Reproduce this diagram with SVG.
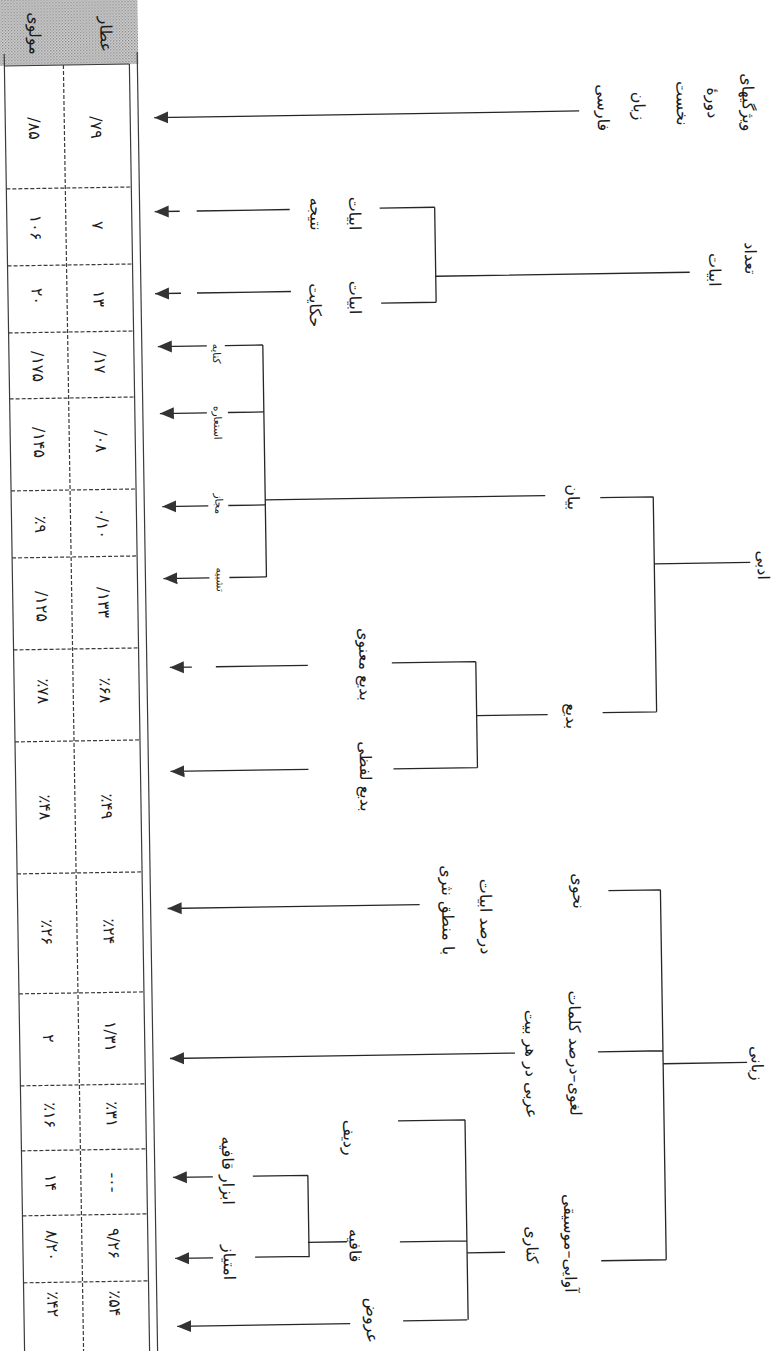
<svg xmlns="http://www.w3.org/2000/svg" width="779" height="1351" viewBox="0 0 779 1351">
<style>
.t{font-family:"DejaVu Sans","Noto Sans",sans-serif;fill:#1c1c1c}
.lbl{font-size:16px}
.sm{font-size:10.5px}
.num{font-size:16px}
.ln{stroke:#262626;stroke-width:1.3;fill:none}
.ar{stroke:#262626;stroke-width:1.3;fill:none;marker-end:url(#ah)}
.tb{stroke:#3a3a3a;stroke-width:1.2;fill:none}
.dsh{stroke-dasharray:4 2}
</style>
<defs>
<marker id="ah" markerUnits="userSpaceOnUse" markerWidth="15" markerHeight="13" refX="14" refY="6.5" orient="auto">
<path d="M0,0.5 L14,6.5 L0,12.5 Z" fill="#333"/>
</marker>
<pattern id="stip" width="3" height="3" patternUnits="userSpaceOnUse">
<rect width="3" height="3" fill="#d6d6d6"/>
<rect width="1.3" height="1.3" fill="#7e7e7e"/>
<rect x="1.5" y="1.5" width="1.3" height="1.3" fill="#8e8e8e"/>
</pattern>
</defs>
<rect width="779" height="1351" fill="#ffffff"/>
<g transform="rotate(-0.9 390 675)">
<g id="table">
<rect x="-8" y="-12" width="156" height="72" fill="url(#stip)"/>
<path class="tb" d="M14,48 V1370 M139,60 V1370 M147,48 V1370"/>
<path class="tb dsh" d="M73,60 V1370"/>
<path class="tb" d="M14,60 H139"/>
<path class="tb dsh" d="M14,183 H139 M14,260 H139 M14,327 H139 M14,393 H139 M14,485 H139 M14,552 H139 M14,644 H139 M14,736 H139 M14,868 H139 M14,988 H139 M14,1080 H139 M14,1145 H139 M14,1210 H139 M14,1277 H139"/>
<text class="t lbl" transform="translate(116 30) rotate(90)" text-anchor="middle" dominant-baseline="central" direction="rtl">عطار</text>
<text class="t lbl" transform="translate(45 28) rotate(90)" text-anchor="middle" dominant-baseline="central" direction="rtl">مولوی</text>
<g class="t num" text-anchor="middle" dominant-baseline="central">
<text transform="translate(105 123) rotate(90)">/۷۹</text>
<text transform="translate(43 123) rotate(90)">/۸۵</text>
<text transform="translate(105 221) rotate(90)">۷</text>
<text transform="translate(43 222) rotate(90)">۱۰۶</text>
<text transform="translate(105 294) rotate(90)">۱۳</text>
<text transform="translate(43 291) rotate(90)">۲۰</text>
<text transform="translate(105 358) rotate(90)">/۱۷</text>
<text transform="translate(43 361) rotate(90)">/۱۷۵</text>
<text transform="translate(105 437) rotate(90)">/۰۸</text>
<text transform="translate(43 437) rotate(90)">/۱۴۵</text>
<text transform="translate(105 519) rotate(90)">۰/۱۰</text>
<text transform="translate(43 519) rotate(90)">٪۹</text>
<text transform="translate(105 598) rotate(90)">/۱۳۳</text>
<text transform="translate(43 601) rotate(90)">/۱۲۵</text>
<text transform="translate(105 686) rotate(90)">٪۶۸</text>
<text transform="translate(43 686) rotate(90)">٪۷۸</text>
<text transform="translate(105 802) rotate(90)">٪۴۹</text>
<text transform="translate(43 802) rotate(90)">٪۴۸</text>
<text transform="translate(105 927) rotate(90)">٪۲۴</text>
<text transform="translate(43 927) rotate(90)">٪۲۶</text>
<text transform="translate(105 1032) rotate(90)">۱/۳۱</text>
<text transform="translate(43 1033) rotate(90)">۲</text>
<text transform="translate(105 1110) rotate(90)">٪۳۱</text>
<text transform="translate(43 1110) rotate(90)">٪۱۶</text>
<text transform="translate(105 1178) rotate(90)">-۰-</text>
<text transform="translate(43 1177) rotate(90)">۱۴</text>
<text transform="translate(105 1239) rotate(90)">۹/۲۶</text>
<text transform="translate(43 1240) rotate(90)">۸/۲۰</text>
<text transform="translate(105 1299) rotate(90)">٪۵۴</text>
<text transform="translate(43 1299) rotate(90)">٪۴۲</text>
</g>
</g>
<g id="connectors">
<path class="ar" d="M588,114 H163"/>
<path class="ar" d="M187,208 H162"/>
<path class="ln" d="M204,208 H297 M387,208 H442"/>
<path class="ar" d="M187,290 H161"/>
<path class="ln" d="M203,290 H297 M387,303 H442 M442,208 V303 M442,277 H696"/>
<path class="ar" d="M212,343 H163"/>
<path class="ln" d="M230,343 H268 M268,343 V575"/>
<path class="ar" d="M211,410 H164"/>
<path class="ln" d="M232,410 H268"/>
<path class="ar" d="M211,503 H165"/>
<path class="ln" d="M231,503 H268 M268,498 H548"/>
<path class="ar" d="M211,575 H165"/>
<path class="ln" d="M231,575 H268"/>
<path class="ln" d="M603,501 H656 M656,501 V716 M602,716 H656 M656,568 H752"/>
<path class="ln" d="M476,717 H547 M476,663 V769 M392,663 H476 M308,664 H216 M392,769 H476"/>
<path class="ar" d="M192,664 H170"/>
<path class="ar" d="M307,768 H169"/>
<path class="ar" d="M416,905 H164"/>
<path class="ar" d="M509,1055 H164"/>
<path class="ln" d="M657,894 V1264 M605,894 H657 M592,1055 H657 M657,1068 H741 M592,1264 H657"/>
<path class="ln" d="M458,1254 H496 M458,1121 V1321 M391,1121 H458 M391,1242 H458 M299,1241 H338 M300,1174 V1256 M245,1174 H300 M246,1255 H300 M393,1321 H457"/>
<path class="ar" d="M205,1174 H165"/>
<path class="ar" d="M204,1255 H166"/>
<path class="ar" d="M340,1323 H167"/>
</g>
<g class="t lbl" text-anchor="middle" dominant-baseline="central" direction="rtl">
<g id="node-vizhegi">
<text transform="translate(757 108) rotate(90)">ویژگیهای</text>
<text transform="translate(722 108) rotate(90)">دورهٔ</text>
<text transform="translate(691 108) rotate(90)">نخست</text>
<text transform="translate(648 110) rotate(90)">زبان</text>
<text transform="translate(612 111) rotate(90)">فارسی</text>
</g>
<g id="node-tedad">
<text transform="translate(757 264) rotate(90)">تعداد</text>
<text transform="translate(721 275) rotate(90)">ابیات</text>
</g>
<g id="node-natije">
<text transform="translate(362 213) rotate(90)">ابیات</text>
<text transform="translate(323 213) rotate(90)">نتیجه</text>
</g>
<g id="node-hekayat">
<text transform="translate(361 297) rotate(90)">ابیات</text>
<text transform="translate(321 304) rotate(90)">حکایت</text>
</g>
<g id="node-kenaye"><text class="sm" transform="translate(222 351) rotate(90)">کنایه</text></g>
<g id="node-esteare"><text class="sm" transform="translate(222 420) rotate(90)">استعاره</text></g>
<g id="node-majaz"><text class="sm" transform="translate(222 501) rotate(90)">مجاز</text></g>
<g id="node-tashbih"><text class="sm" transform="translate(222 577) rotate(90)">تشبیه</text></g>
<g id="node-bayan"><text transform="translate(576 500) rotate(90)">بیان</text></g>
<g id="node-badi"><text transform="translate(571 719) rotate(90)">بدیع</text></g>
<g id="node-adabi"><text transform="translate(765 571) rotate(90)">ادبی</text></g>
<g id="node-badi-manavi"><text transform="translate(365 664) rotate(90)">بدیع معنوی</text></g>
<g id="node-badi-lafzi"><text transform="translate(364 776) rotate(90)">بدیع لفظی</text></g>
<g id="node-nahvi"><text transform="translate(575 894) rotate(90)">نحوی</text></g>
<g id="node-darsad-abyat">
<text transform="translate(482 918) rotate(90)">درصد ابیات</text>
<text transform="translate(444 911) rotate(90)">با منطق نثری</text>
</g>
<g id="node-loghavi">
<text transform="translate(569 1056) rotate(90)">لغوی–درصد کلمات</text>
<text transform="translate(525 1066) rotate(90)">عربی در هر بیت</text>
</g>
<g id="node-zabani"><text transform="translate(751 1069) rotate(90)">زبانی</text></g>
<g id="node-avayi"><text transform="translate(561 1246) rotate(90)">آوایی–موسیقی</text></g>
<g id="node-kenari"><text transform="translate(523 1247) rotate(90)">کناری</text></g>
<g id="node-radif"><text transform="translate(342 1137) rotate(90)">ردیف</text></g>
<g id="node-qafie"><text transform="translate(346 1245) rotate(90)">قافیه</text></g>
<g id="node-abzar"><text transform="translate(220 1168) rotate(90)">ابزار قافیه</text></g>
<g id="node-emtiaz"><text transform="translate(220 1260) rotate(90)">امتیاز</text></g>
<g id="node-aruz"><text transform="translate(362 1320) rotate(90)">عروض</text></g>
</g>
</g>
</svg>
